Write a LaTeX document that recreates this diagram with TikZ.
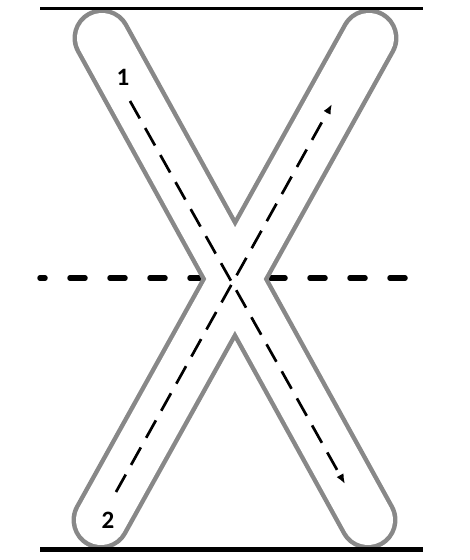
\documentclass[tikz,border=0pt]{standalone}
\usepackage{fontspec}
\setmainfont{Carlito}
\usetikzlibrary{arrows.meta}
\definecolor{outline}{RGB}{136,136,136}
\begin{document}
\begin{tikzpicture}[x=1pt,y=-1pt,
  capout/.style={line width=59pt, line cap=round, draw=outline},
  capin/.style={line width=50pt, line cap=round, draw=white},
  midline/.style={line width=5.5pt, line cap=round, dash pattern=on 15pt off 25pt, dash phase=10pt},
  flow/.style={line width=2.7pt, dash pattern=on 20pt off 11pt, -{Latex[length=10pt,width=8pt]}},
  lbl/.style={font=\fontsize{25}{25}\selectfont\bfseries, inner sep=0pt}]
\useasboundingbox (0,0) rectangle (470,560);
% middle dashed guide line (under the letter)
\draw[midline] (40,278) -- (409,278);
% letter X: two capsules
\coordinate (aT) at (102,38); \coordinate (aB) at (368,520);
\coordinate (bT) at (369,38); \coordinate (bB) at (101,520);
\draw[capout] (aT) -- (aB);
\draw[capout] (bT) -- (bB);
\draw[capin] (aT) -- (aB);
\draw[capin] (bT) -- (bB);
% top and bottom guide lines
\draw[line width=3pt] (40,8) -- (423,8);
\draw[line width=5pt] (40,549.5) -- (423,549.5);
% stroke order arrows
\node[lbl] (one) at (123,77) {1};
\node[lbl] (two) at (108,520) {2};
\coordinate (s1) at (130,101); \coordinate (e1) at (345,484);
\coordinate (s2) at (116,492); \coordinate (e2) at (332,104);
\draw[flow] (s1) -- (e1);
\draw[flow] (s2) -- (e2);
\end{tikzpicture}
\end{document}
